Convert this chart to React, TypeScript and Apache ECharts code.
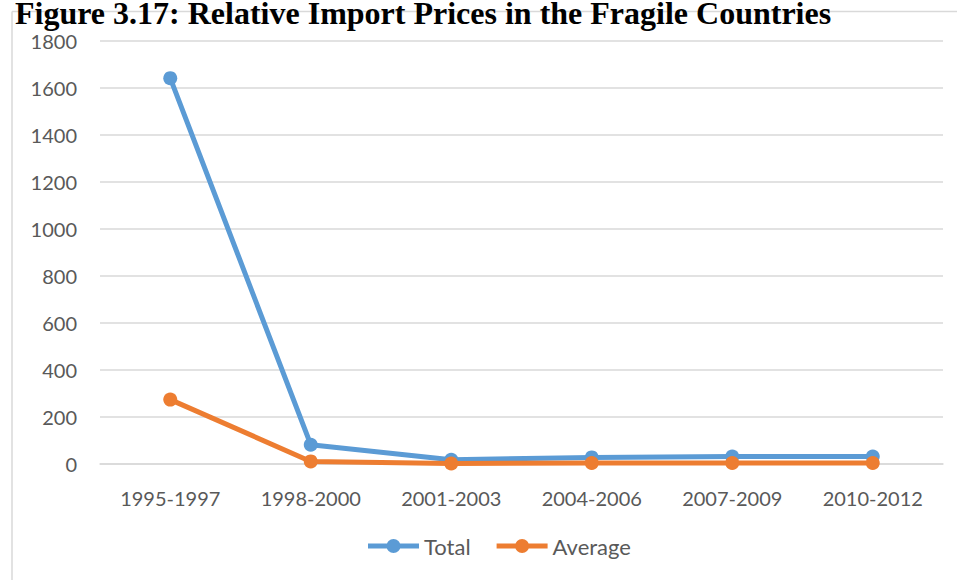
import React, { useEffect, useRef } from "react";
import * as echarts from "echarts";

const categories = ["1995-1997", "1998-2000", "2001-2003", "2004-2006", "2007-2009", "2010-2012"];
const totalValues = [1642, 82, 18, 28, 32, 32];
const averageValues = [274, 11, 2, 4, 4, 4];
const titleText = "Figure 3.17: Relative Import Prices in the Fragile Countries";

const legendIcon =
  "path://M0,5.5H51V10.5H0Z M18.5,8A7,7 0 1,1 32.5,8A7,7 0 1,1 18.5,8Z";

export default function App() {
  const ref = useRef<HTMLDivElement>(null);
  useEffect(() => {
    document.body.style.margin = "0";
    const chart = echarts.init(ref.current!, null, { renderer: "svg" });
    const font = "Lato";
    chart.setOption({
      animation: false,
      backgroundColor: "#ffffff",
      graphic: [
        { type: "line", shape: { x1: 12, y1: 11.5, x2: 957, y2: 11.5 }, style: { stroke: "#d9d9d9", lineWidth: 1.5 }, z: 0 },
        { type: "line", shape: { x1: 12, y1: 11.5, x2: 12, y2: 580 }, style: { stroke: "#d9d9d9", lineWidth: 1.5 }, z: 0 },
        {
          type: "text",
          left: 15,
          top: -3,
          z: 10,
          style: {
            text: titleText,
            fill: "#000000",
            font: "bold 32px 'Liberation Serif'",
          },
        },
      ],
      grid: { left: 100, right: 14, top: 41, bottom: 116, containLabel: false },
      xAxis: {
        type: "category",
        data: categories,
        boundaryGap: true,
        axisLine: { show: true, lineStyle: { color: "#d9d9d9", width: 1.5 } },
        axisTick: { show: false },
        axisLabel: { color: "#595959", fontFamily: font, fontSize: 20, margin: 24 },
      },
      yAxis: {
        type: "value",
        min: 0,
        max: 1800,
        interval: 200,
        axisLine: { show: false },
        axisTick: { show: false },
        splitLine: { lineStyle: { color: "#d9d9d9", width: 1.5 } },
        axisLabel: { color: "#595959", fontFamily: font, fontSize: 20, margin: 23, formatter: (v: number) => String(v) },
      },
      legend: {
        bottom: 18,
        left: 363,
        itemWidth: 51,
        itemHeight: 14,
        itemGap: 26,
        textStyle: { color: "#595959", fontFamily: font, fontSize: 22 },
        data: [
          { name: "Total", icon: legendIcon },
          { name: "Average", icon: legendIcon },
        ],
      },
      series: [
        {
          name: "Total",
          type: "line",
          data: totalValues,
          symbol: "circle",
          symbolSize: 14,
          lineStyle: { color: "#5B9BD5", width: 5 },
          itemStyle: { color: "#5B9BD5" },
          z: 2,
        },
        {
          name: "Average",
          type: "line",
          data: averageValues,
          symbol: "circle",
          symbolSize: 14,
          lineStyle: { color: "#ED7D31", width: 5 },
          itemStyle: { color: "#ED7D31" },
          z: 3,
        },
      ],
    });
    return () => chart.dispose();
  }, []);
  return <div ref={ref} style={{ position: "absolute", left: 0, top: 0, width: 957, height: 580 }} />;
}
